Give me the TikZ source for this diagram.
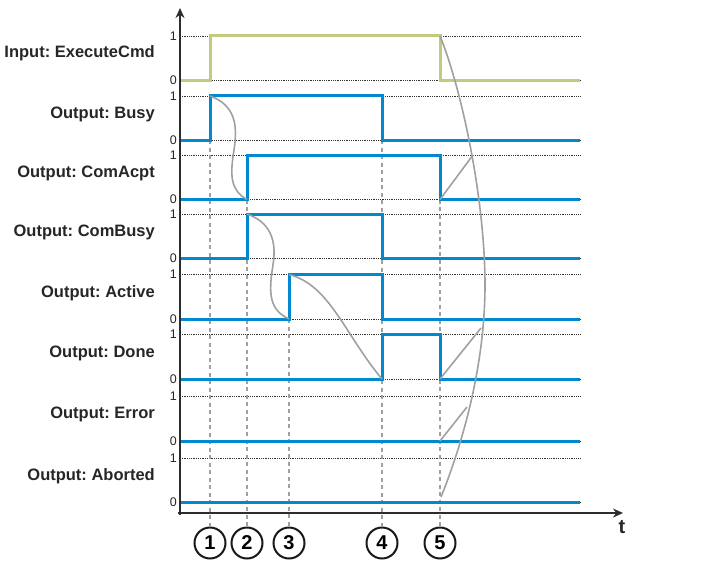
\documentclass[tikz,border=0pt]{standalone}
\usepackage{fontspec}
\setmainfont{Liberation Sans}
\frenchspacing
\usetikzlibrary{arrows.meta}
\definecolor{cmdgreen}{RGB}{196,201,128}
\definecolor{outblue}{RGB}{0,137,207}
\definecolor{causegray}{RGB}{160,160,160}
\definecolor{axisgray}{RGB}{45,45,45}

\tikzset{
  level/.style={densely dotted, line width=0.8pt, black!80},
  signal/.style={line width=3pt, outblue},
  marker/.style={dashed, dash pattern=on 4pt off 3.5pt, line width=2pt, causegray},
  cause/.style={line width=1.6pt, causegray},
  axisline/.style={line width=2pt, axisgray},
  tick/.style={anchor=east, inner sep=0pt, text=black!85, font=\fontsize{12.5}{13}\selectfont},
  siglabel/.style={anchor=base east, inner sep=0pt, text=black!85, font=\bfseries\fontsize{16.5}{18}\selectfont},
  event/.style={circle, draw=black!90, line width=2pt, minimum size=31pt, inner sep=0pt, font=\bfseries\fontsize{20}{22}\selectfont}
}

\begin{document}
\begin{tikzpicture}[x=1pt, y=-1pt, >=Stealth]
    \useasboundingbox (0,0) rectangle (709,567);

    \def\xa{180} % tengely
    \def\xe{580} % jelek vege
    % idopontok
    \def\ta{210} \def\tb{247} \def\tc{289} \def\td{382} \def\te{440}

    % 1/0 szintek pontozott vonallal
    \foreach \hi/\lo in {36/80.5, 96/140, 155/199.5, 214/258.5, 274.5/319, 334.5/379, 396/441, 458/502.5} {
        \draw[level] (\xa,\hi) -- (\xe,\hi);
        \draw[level] (\xa,\lo) -- (\xe,\lo);
        \node[tick] at (177,\hi) {1};
        \node[tick] at (177,\lo) {0};
    }

    % jelek nevei
    \node[siglabel] (execcmd) at (155,58)    {Input: ExecuteCmd};
    \node[siglabel] (busy)    at (155,118)   {Output: Busy};
    \node[siglabel] (comacpt) at (155,177.5) {Output: ComAcpt};
    \node[siglabel] (combusy) at (155,236.5) {Output: ComBusy};
    \node[siglabel] (active)  at (155,297)   {Output: Active};
    \node[siglabel] (done)    at (155,357)   {Output: Done};
    \node[siglabel] (error)   at (155,418.5) {Output: Error};
    \node[siglabel] (aborted) at (155,480)   {Output: Aborted};

    % esemenyek
    \node[event] (ev1) at (\ta,543) {1};
    \node[event] (ev2) at (\tb,543) {2};
    \node[event] (ev3) at (\tc,543) {3};
    \node[event] (ev4) at (\td,543) {4};
    \node[event] (ev5) at (\te,543) {5};
    \draw[marker] (\ta,140)   -- (ev1.north);
    \draw[marker] (\tb,199.5) -- (ev2.north);
    \draw[marker] (\tc,319)   -- (ev3.north);
    \draw[marker] (\td,140)   -- (ev4.north);
    \draw[marker] (\te,199.5) -- (ev5.north);

    % jelalakok
    \draw[signal, cmdgreen] (\xa,80.5) -- (\ta,80.5) -- (\ta,36) -- (\te,36) -- (\te,80.5) -- (\xe,80.5);
    \draw[signal] (\xa,140) -- (\ta,140) -- (\ta,96) -- (\td,96) -- (\td,140) -- (\xe,140);
    \draw[signal] (\xa,199.5) -- (\tb,199.5) -- (\tb,155) -- (\te,155) -- (\te,199.5) -- (\xe,199.5);
    \draw[signal] (\xa,258.5) -- (\tb,258.5) -- (\tb,214) -- (\td,214) -- (\td,258.5) -- (\xe,258.5);
    \draw[signal] (\xa,319) -- (\tc,319) -- (\tc,274.5) -- (\td,274.5) -- (\td,319) -- (\xe,319);
    \draw[signal] (\xa,379) -- (\td,379) -- (\td,334.5) -- (\te,334.5) -- (\te,379) -- (\xe,379);
    \draw[signal] (\xa,441) -- (\xe,441);
    \draw[signal] (\xa,502.5) -- (\xe,502.5);

    % ok-okozati gorbek
    \draw[cause] (\ta,96) .. controls (235,105) and (238,125) .. (234,150)
                 .. controls (230,175) and (230,190) .. (\tb,199.5);
    \draw[cause] (\tb,214) .. controls (270,222) and (277,240) .. (273,265)
                 .. controls (268,295) and (270,310) .. (\tc,319);
    \draw[cause] (\tc,274.5) .. controls (330,285) and (345,335) .. (\td,379);
    \draw[cause] (\te,36) .. controls (462,90) and (485,200) .. (485,285)
                 .. controls (485,370) and (460,450) .. (441,497);
    \draw[cause] (\te,199.5) -- (473,155);
    \draw[cause] (\te,379) -- (481,328);
    \draw[cause] (\te,441) -- (467,407);

    % tengelyek
    \draw[axisline, -{Stealth[length=10pt, width=9pt]}] (\xa,515) -- (\xa,8);
    \draw[axisline, -{Stealth[length=10pt, width=9pt]}] (178,513) -- (623,513);
    \node[font=\bfseries\fontsize{20}{22}\selectfont, text=black!85] (taxis) at (622,527) {t};
\end{tikzpicture}
\end{document}
